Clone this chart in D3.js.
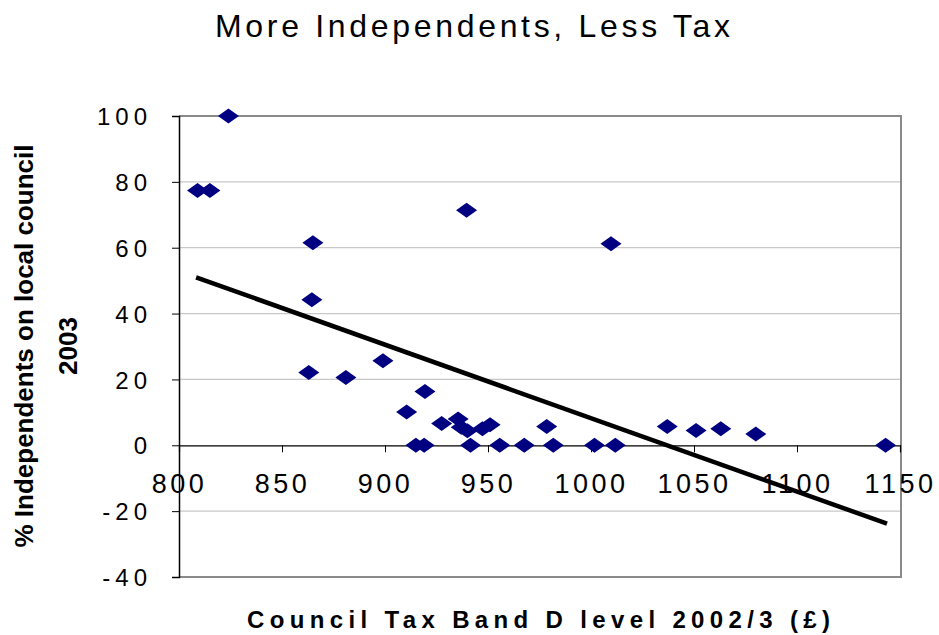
<!DOCTYPE html>
<html>
<head>
<meta charset="utf-8">
<script src="https://cdn.jsdelivr.net/npm/d3@7"></script>
<style>
  html, body { margin: 0; padding: 0; background: #fff; }
  svg { display: block; }
  text { font-family: "Liberation Sans", Arial, sans-serif; fill: #000; }
</style>
</head>
<body>
<svg id="chart" width="939" height="635"></svg>
<script>
// Council tax Band D (£) against share of independent councillors (%)
const taxBandD = [809, 815, 824, 865, 864.5, 863, 881, 899, 910.5, 919.4,
  915, 919, 927.5, 935.5, 937, 940, 939.6, 941.5, 947.3, 951,
  955.7, 967.6, 978.5, 981.7, 1001.7, 1009.7, 1011.8, 1037, 1051, 1063,
  1080, 1143];
const pctIndependents = [77.4, 77.4, 100, 61.5, 44.2, 22.1, 20.6, 25.7, 10.1, 16.3,
  0, 0, 6.6, 8.0, 5.5, 4.4, 71.4, 0, 5.0, 6.2,
  0, 0, 5.7, 0, 0, 61.2, 0, 5.7, 4.5, 5.0,
  3.4, 0];

// Linear trend line end points
const trendX = [808.3, 1143.7];
const trendY = [51.0, -23.8];

const xTicks = [800, 850, 900, 950, 1000, 1050, 1100, 1150];
const yTicks = [-40, -20, 0, 20, 40, 60, 80, 100];

const titleText = "More Independents, Less Tax";
const xTitle = "Council Tax Band D level 2002/3 (£)";
const yTitleLines = ["% Independents on local council", "2003"];

const svg = d3.select("#chart");
const plot = { left: 179, right: 900, top: 116, bottom: 577 };

const x = d3.scaleLinear().domain([800, 1150]).range([plot.left, plot.right]);
const y = d3.scaleLinear().domain([-40, 100]).range([plot.bottom, plot.top]);

// spread a text's letters so it covers a given width, starting at x0
function spreadText(sel, width, x0) {
  const node = sel.node();
  const n = sel.text().length;
  sel.style("letter-spacing", "0px");
  const natural = node.getComputedTextLength();
  const s = (width - natural) / (n - 1);
  sel.style("letter-spacing", s + "px").attr("x", x0);
  return s;
}

// gridlines
svg.append("g")
  .selectAll("line")
  .data(yTicks.filter(v => v !== 0 && v !== 100 && v !== -40))
  .join("line")
  .attr("x1", plot.left).attr("x2", plot.right)
  .attr("y1", d => y(d)).attr("y2", d => y(d))
  .attr("stroke", "#c8c8c8").attr("stroke-width", 1.2);

// plot frame (top, right, bottom)
svg.append("path")
  .attr("d", `M${plot.left},${plot.top}H${plot.right + 1}V${plot.bottom}H${plot.left}`)
  .attr("fill", "none").attr("stroke", "#8a8a8a").attr("stroke-width", 2);

// y axis
const yAxis = svg.append("g")
  .attr("transform", `translate(${plot.left},0)`)
  .call(d3.axisLeft(y).tickValues(yTicks).tickSize(7).tickPadding(20).tickFormat(d => String(d)));
yAxis.select(".domain").attr("stroke", "#000").attr("stroke-width", 1.5);
yAxis.selectAll(".tick line").attr("stroke", "#000");
yAxis.selectAll(".tick text")
  .style("font-family", "'Liberation Sans', Arial, sans-serif")
  .style("font-size", "24px")
  .style("letter-spacing", "5px")
  .attr("dy", "0.36em")
  .attr("fill", "#000");

// x axis along y = 0
const xAxis = svg.append("g")
  .attr("transform", `translate(0,${y(0)})`)
  .call(d3.axisBottom(x).tickValues(xTicks).tickSize(7).tickPadding(10).tickFormat(d => String(d)));
xAxis.select(".domain").attr("stroke", "#000").attr("stroke-width", 1.2);
xAxis.selectAll(".tick line").attr("stroke", "#000");
xAxis.selectAll(".tick text")
  .style("font-family", "'Liberation Sans', Arial, sans-serif")
  .style("font-size", "27px")
  .style("letter-spacing", "3.5px")
  .attr("y", 47.5)
  .attr("dy", 0)
  .attr("fill", "#000");

// points
const diamond = "M0,-7.5L10.5,0L0,7.5L-10.5,0Z";
svg.append("g")
  .selectAll("path")
  .data(taxBandD.map((t, i) => [t, pctIndependents[i]]))
  .join("path")
  .attr("d", diamond)
  .attr("transform", d => `translate(${x(d[0])},${y(d[1])})`)
  .attr("fill", "#000080");

// trend line
svg.append("path")
  .datum(trendX.map((t, i) => [t, trendY[i]]))
  .attr("d", d3.line().x(d => x(d[0])).y(d => y(d[1])))
  .attr("fill", "none").attr("stroke", "#000").attr("stroke-width", 4.5);

// title
const t = svg.append("text")
  .attr("y", 37)
  .style("font-size", "32px")
  .text(titleText);
spreadText(t, 515, 215);

// x axis title
const xt = svg.append("text")
  .attr("y", 628)
  .style("font-size", "24px")
  .style("font-weight", "bold")
  .text(xTitle);
spreadText(xt, 583, 247);

// y axis title (two lines)
const yCenter = 346;
svg.append("text")
  .attr("transform", `translate(33,${yCenter}) rotate(-90)`)
  .attr("text-anchor", "middle")
  .style("font-size", "26px")
  .style("font-weight", "bold")
  .text(yTitleLines[0]);
svg.append("text")
  .attr("transform", `translate(77,${yCenter}) rotate(-90)`)
  .attr("text-anchor", "middle")
  .style("font-size", "26px")
  .style("font-weight", "bold")
  .text(yTitleLines[1]);
</script>
</body>
</html>
